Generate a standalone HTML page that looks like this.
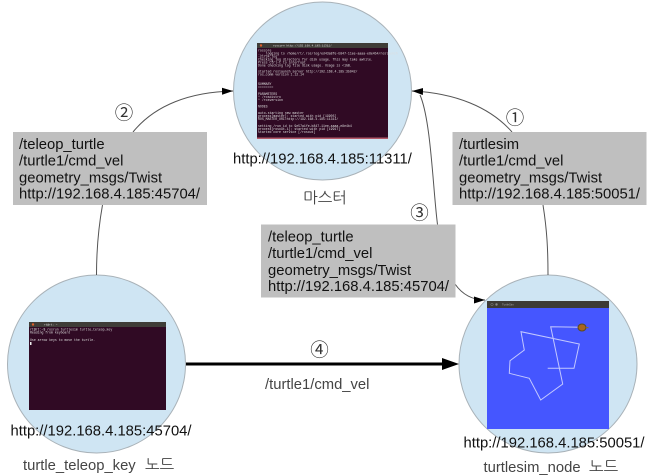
<!DOCTYPE html>
<html><head><meta charset="utf-8"><style>
html,body{margin:0;padding:0;background:#fff}
svg{display:block}
text{font-family:"Liberation Sans","Noto Sans CJK KR",sans-serif}
.b{font-size:14.8px;fill:#111}
.u{font-size:14.8px;fill:#111}
.g{font-size:14.8px;fill:#444}
.k{font-size:15.500px;fill:#444;font-family:"NanumGothic","Noto Sans CJK KR",sans-serif}
.n{font-size:18.500px;fill:#333;text-anchor:middle}
.t{font-size:3.2px;fill:#ddd;font-family:"Liberation Mono",monospace}
</style></head><body>
<svg width="650" height="475" viewBox="0 0 650 475" xmlns="http://www.w3.org/2000/svg">
<defs>
<marker id="a" markerUnits="userSpaceOnUse" markerWidth="12" markerHeight="10" refX="11" refY="4" orient="auto"><path d="M0 .5L11 4L0 7.500z" fill="#000"/></marker>
</defs>
<g fill="#cfe5f3" stroke="#a9b2b8" stroke-width="1">
<circle cx="322.5" cy="91" r="89"/>
<circle cx="96.5" cy="364" r="89"/>
<circle cx="548" cy="364" r="89"/>
</g>
<!-- connectors -->
<g fill="none" stroke="#555" stroke-width="1">
<path d="M133 132C155 105 190 92 233 91" marker-end="url(#a)"/>
<path d="M102.500 205C98 230 96.500 250 96.500 275"/>
<path d="M512 132C490 107 455 93 412 91" marker-end="url(#a)"/>
<path d="M543 205C547 230 548 250 548 275"/>
<path d="M437.500 224.500C433 190 431 120 420 95"/>
<path d="M455 284C462 294 472 300 485 300" marker-end="url(#a)"/>
</g>
<path d="M186 364H445" stroke="#000" stroke-width="3"/>
<path d="M442 358L459 364L442 370z" fill="#000"/>
<!-- boxes -->
<rect x="13" y="132" width="194" height="73" fill="#bfbfbf"/>
<rect x="452.500" y="132" width="194" height="73" fill="#bfbfbf"/>
<rect x="261" y="224.500" width="194.500" height="73" fill="#bfbfbf"/>
<text class="b" x="19" y="149">/teleop_turtle</text>
<text class="b" x="19" y="165.700">/turtle1/cmd_vel</text>
<text class="b" x="19" y="182.300">geometry_msgs/Twist</text>
<text class="b" x="19" y="198.700">http://192.168.4.185:45704/</text>
<text class="b" x="459" y="149">/turtlesim</text>
<text class="b" x="459" y="165.700">/turtle1/cmd_vel</text>
<text class="b" x="459" y="182.300">geometry_msgs/Twist</text>
<text class="b" x="459" y="198.700">http://192.168.4.185:50051/</text>
<text class="b" x="268" y="241.500">/teleop_turtle</text>
<text class="b" x="268" y="258.200">/turtle1/cmd_vel</text>
<text class="b" x="268" y="274.800">geometry_msgs/Twist</text>
<text class="b" x="268" y="291.200">http://192.168.4.185:45704/</text>
<!-- terminal 1 -->
<rect x="257" y="43" width="131" height="96" fill="#300a24"/>
<rect x="257" y="43" width="131" height="5" fill="#3f3d38"/>
<rect x="257" y="137.500" width="131" height="1.500" fill="#b45a6a"/>
<circle cx="261" cy="45.500" r="1.200" fill="#e0602a"/>
<text class="t" x="273" y="46.500" style="font-size:2.800px">roscore http://192.168.4.185:11311/</text>
<text class="t" x="258" y="51.500">roscore</text>
<text class="t" x="258" y="54.500">... logging to /home/rt/.ros/log/ed43a8fe-b847-11ee-aaaa-e8e4b4/roslaunch</text>
<text class="t" x="258" y="57.500">-21734.log</text>
<text class="t" x="258" y="60.500">Checking log directory for disk usage. This may take awhile.</text>
<text class="t" x="258" y="63.500">Press Ctrl-C to interrupt</text>
<text class="t" x="258" y="66.500">Done checking log file disk usage. Usage is &lt;1GB.</text>
<text class="t" x="258" y="72.500">started roslaunch server http://192.168.4.185:35942/</text>
<text class="t" x="258" y="75.500">ros_comm version 1.12.14</text>
<text class="t" x="258" y="85">SUMMARY</text>
<text class="t" x="258" y="88">========</text>
<text class="t" x="258" y="95">PARAMETERS</text>
<text class="t" x="258" y="98"> * /rosdistro</text>
<text class="t" x="258" y="101"> * /rosversion</text>
<text class="t" x="258" y="107.500">NODES</text>
<text class="t" x="258" y="114">auto-starting new master</text>
<text class="t" x="258" y="117">process[master]: started with pid [19905]</text>
<text class="t" x="258" y="120">ROS_MASTER_URI=http://192.168.4.185:11311/</text>
<text class="t" x="258" y="127">setting /run_id to 9e57a1fe-b847-11ee-aaaa-e8e4b4</text>
<text class="t" x="258" y="130">process[rosout-1]: started with pid [19917]</text>
<text class="t" x="258" y="133">started core service [/rosout]</text>
<!-- terminal 2 -->
<rect x="29" y="322" width="137" height="88" fill="#300a24"/>
<rect x="29" y="322" width="137" height="5" fill="#3f3d38"/>
<circle cx="33" cy="324.500" r="1.200" fill="#e0602a"/>
<text class="t" x="44" y="325.500" style="font-size:2.800px">rt@rt: ~</text>
<text class="t" x="30" y="330.500">rt@rt:~$ rosrun turtlesim turtle_teleop_key</text>
<text class="t" x="30" y="333.500">Reading from keyboard</text>
<text class="t" x="30" y="341">Use arrow keys to move the turtle.</text>
<rect x="30" y="342" width="1.500" height="3" fill="#eee"/>
<!-- turtlesim -->
<rect x="487" y="301" width="122" height="128" fill="#4556ff"/>
<rect x="487" y="301" width="122" height="7" fill="#3d3b36"/>
<text x="502" y="305.500" style="font-size:2.800px;fill:#aaa">TurtleSim</text>
<circle cx="492" cy="304.500" r="1.200" fill="none" stroke="#888" stroke-width=".5"/>
<circle cx="496.500" cy="304.500" r="1.200" fill="#888"/>
<path d="M582 327.300L550.700 326.700L562.700 384L540.700 400L529.300 378.300L509.300 373.300L510 360.700L524.300 350L521 331.700L579.300 344L574 368.300L547.700 368.300" fill="none" stroke="#c3c8ff" stroke-width="1"/>
<ellipse cx="582" cy="327.500" rx="4" ry="3.500" fill="#a8651f" stroke="#5a4a20" stroke-width="1"/>
<rect x="586" y="327" width="2.500" height="1.200" fill="#8a6a30"/>
<!-- labels -->
<text class="u" x="233" y="163.500">http://192.168.4.185:11311/</text>
<text class="u" x="10.500" y="435.500">http://192.168.4.185:45704/</text>
<text class="u" x="463.500" y="447.500">http://192.168.4.185:50051/</text>
<text class="k" x="325" y="203" text-anchor="middle">마스터</text>
<text class="g" x="23" y="470">turtle_teleop_key</text>
<text class="k" x="145" y="470">노드</text>
<text class="g" x="483.500" y="472">turtlesim_node</text>
<text class="k" x="589" y="472">노드</text>
<text class="g" x="265" y="389">/turtle1/cmd_vel</text>
<text class="n" x="124" y="119.500">②</text>
<text class="n" x="515" y="124.500">①</text>
<text class="n" x="419.500" y="219.500">③</text>
<text class="n" x="319.500" y="356.500">④</text>
</svg>
</body></html>
